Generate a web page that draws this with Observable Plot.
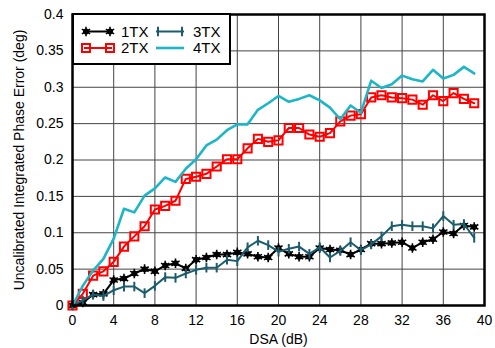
<!DOCTYPE html>
<html><head><meta charset="utf-8">
<script src="https://cdn.jsdelivr.net/npm/d3@7"></script>
<script src="https://cdn.jsdelivr.net/npm/@observablehq/plot@0.6"></script>
<style>
body{margin:0;background:#fff;}
#wrap{position:relative;width:495px;height:348px;font-family:"Liberation Sans",Arial,sans-serif;}
#legend{position:absolute;left:72px;top:13px;}
</style>
</head><body>
<div id="wrap"><div id="chart"></div><div id="legend"></div></div>
<script>
const dsa = [0,1,2,3,4,5,6,7,8,9,10,11,12,13,14,15,16,17,18,19,20,21,22,23,24,25,26,27,28,29,30,31,32,33,34,35,36,37,38,39];
const tx1 = [0,0.004,0.015,0.016,0.035,0.037,0.044,0.050,0.047,0.055,0.058,0.051,0.063,0.066,0.070,0.070,0.073,0.071,0.067,0.066,0.079,0.071,0.067,0.067,0.079,0.077,0.076,0.070,0.077,0.085,0.085,0.086,0.087,0.079,0.087,0.091,0.101,0.099,0.110,0.108];
const tx2 = [0,0.016,0.041,0.047,0.060,0.081,0.095,0.109,0.132,0.137,0.144,0.174,0.177,0.181,0.191,0.201,0.201,0.216,0.229,0.225,0.227,0.244,0.244,0.235,0.232,0.237,0.253,0.261,0.263,0.286,0.289,0.286,0.285,0.283,0.276,0.289,0.281,0.292,0.284,0.278];
const tx3 = [0,0.007,0.015,0.013,0.021,0.026,0.026,0.017,0.027,0.039,0.038,0.044,0.049,0.052,0.052,0.063,0.061,0.080,0.089,0.083,0.074,0.078,0.081,0.071,0.080,0.066,0.075,0.087,0.076,0.084,0.095,0.109,0.111,0.109,0.109,0.106,0.123,0.111,0.112,0.093];
const tx4 = [0,0.027,0.048,0.064,0.092,0.133,0.128,0.151,0.161,0.176,0.170,0.188,0.201,0.220,0.228,0.241,0.249,0.249,0.269,0.278,0.288,0.280,0.284,0.289,0.282,0.272,0.256,0.275,0.265,0.309,0.299,0.304,0.316,0.311,0.308,0.324,0.312,0.317,0.328,0.319];
const seriesNames = ["1TX","2TX","3TX","4TX"];
const colors = ["#000000","#ff0000","#1c5c6c","#1cb6c8"];
const xTicks = [0,4,8,12,16,20,24,28,32,36,40];
const yTicks = [0,0.05,0.1,0.15,0.2,0.25,0.3,0.35,0.4];

const rows = (vals) => dsa.map((x,i)=>({x, y: vals[i]}));
const d1 = rows(tx1), d2 = rows(tx2), d3r = rows(tx3), d4 = rows(tx4);

const vtick = {draw(ctx, size){ const r = Math.sqrt(size/Math.PI); ctx.moveTo(0,-r); ctx.lineTo(0,r); }};

const chart = Plot.plot({
  width: 495, height: 348,
  marginLeft: 72, marginRight: 11, marginTop: 14, marginBottom: 43,
  style: {fontFamily: '"Liberation Sans", Arial, sans-serif', fontSize: "14px", color: "#000"},
  x: {domain: [0,40], ticks: xTicks},
  y: {domain: [0,0.4], ticks: yTicks},
  marks: [
    Plot.gridX(xTicks, {stroke: "#444", strokeOpacity: 1, strokeWidth: 1}),
    Plot.gridY(yTicks, {stroke: "#444", strokeOpacity: 1, strokeWidth: 1}),
    Plot.axisX({ticks: xTicks, tickSize: 0, tickPadding: 10, label: "DSA (dB)", labelAnchor: "center", labelArrow: "none", labelOffset: 38, fontSize: 14}),
    Plot.axisY({ticks: yTicks, tickSize: 0, tickPadding: 9, tickFormat: d => d === 0 ? "0" : String(+d.toFixed(2)), label: "Uncalibrated Integrated Phase Error (deg)", labelAnchor: "center", labelArrow: "none", labelOffset: 58, fontSize: 14}),
    // 1TX
    Plot.line(d1, {x: "x", y: "y", stroke: colors[0], strokeWidth: 2}),
    Plot.dot(d1, {x: "x", y: "y", r: 3, fill: colors[0], stroke: "none"}),
    Plot.dot(d1, {x: "x", y: "y", r: 4.5, symbol: "asterisk", stroke: colors[0], strokeWidth: 1.6}),
    // 2TX
    Plot.line(d2, {x: "x", y: "y", stroke: colors[1], strokeWidth: 2}),
    Plot.dot(d2, {x: "x", y: "y", r: 4.6, symbol: "square", stroke: colors[1], fill: "none", strokeWidth: 2}),
    // 3TX
    Plot.line(d3r, {x: "x", y: "y", stroke: colors[2], strokeWidth: 2}),
    Plot.dot(d3r, {x: "x", y: "y", r: 4.8, symbol: vtick, stroke: colors[2], fill: "none", strokeWidth: 2}),
    // 4TX
    Plot.line(d4, {x: "x", y: "y", stroke: colors[3], strokeWidth: 2.6}),
    Plot.frame({stroke: "#000", strokeWidth: 2.5})
  ]
});
document.getElementById("chart").appendChild(chart);

// Legend
const W = 159, H = 52;
const lsvg = d3.select("#legend").append("svg").attr("width", W).attr("height", H)
  .style("font-family", '"Liberation Sans", Arial, sans-serif');
lsvg.append("rect").attr("x",1).attr("y",1).attr("width",W-2).attr("height",H-2).attr("fill","#fff").attr("stroke","#000").attr("stroke-width",2);
const pos = [[12,18.5],[12,35],[84,18.5],[84,35]];
seriesNames.forEach((name,i)=>{
  const [lx, ly] = pos[i];
  const g = lsvg.append("g").attr("transform",`translate(${lx},${ly})`);
  g.append("line").attr("x1",0).attr("x2",28).attr("y1",0).attr("y2",0).attr("stroke",colors[i]).attr("stroke-width", i===3?2.6:2);
  [2,26].forEach(mx=>{
    if(i===0){
      g.append("circle").attr("cx",mx).attr("cy",0).attr("r",3).attr("fill",colors[0]);
      g.append("path").attr("transform",`translate(${mx},0)`).attr("d", d3.symbol(d3.symbolAsterisk, Math.PI*4.5*4.5)()).attr("stroke",colors[0]).attr("stroke-width",1.6).attr("fill","none");
    } else if(i===1){
      g.append("rect").attr("x",mx-4).attr("y",-4).attr("width",8).attr("height",8).attr("fill","none").attr("stroke",colors[1]).attr("stroke-width",2);
    } else if(i===2){
      g.append("line").attr("x1",mx).attr("x2",mx).attr("y1",-4.8).attr("y2",4.8).attr("stroke",colors[2]).attr("stroke-width",2);
    }
  });
  g.append("text").attr("x",37).attr("y",0).attr("dy","0.36em").attr("font-size",15).attr("fill","#000").text(name);
});
</script>
</body></html>
